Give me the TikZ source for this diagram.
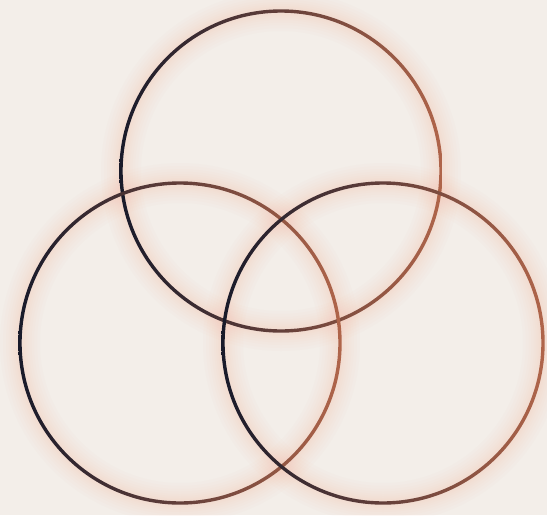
\documentclass[tikz,border=0pt]{standalone}
\usetikzlibrary{calc}
\definecolor{bgc}{HTML}{F3EEE9}
\definecolor{glowc}{HTML}{F2BFA6}
\definecolor{inkdark}{HTML}{181A2A}
\definecolor{inkmid}{HTML}{4A3231}
\definecolor{inkcopper}{HTML}{B0654A}
\tikzset{
  glowline/.style={draw=glowc, line width=#1, opacity=0.045},
}
\begin{document}
\begin{tikzpicture}[x=1pt,y=-1pt]
\fill[bgc] (0,0) rectangle (547,515);
\useasboundingbox (0,0) rectangle (547,515);
\coordinate (ct) at (281,171);
\coordinate (cl) at (180,343);
\coordinate (cr) at (383,343);
% soft glow
\foreach \c in {ct,cl,cr}{
  \foreach \w in {40,34,28,23,18,14,10,7}{
    \draw[glowline=\w] (\c) circle (160);
  }
}
% gradient rings
\foreach \c in {ct,cl,cr}{
  \shade[even odd rule, left color=inkdark, middle color=inkmid, right color=inkcopper]
    (\c) circle (161.7) (\c) circle (158.3);
}
\end{tikzpicture}
\end{document}
